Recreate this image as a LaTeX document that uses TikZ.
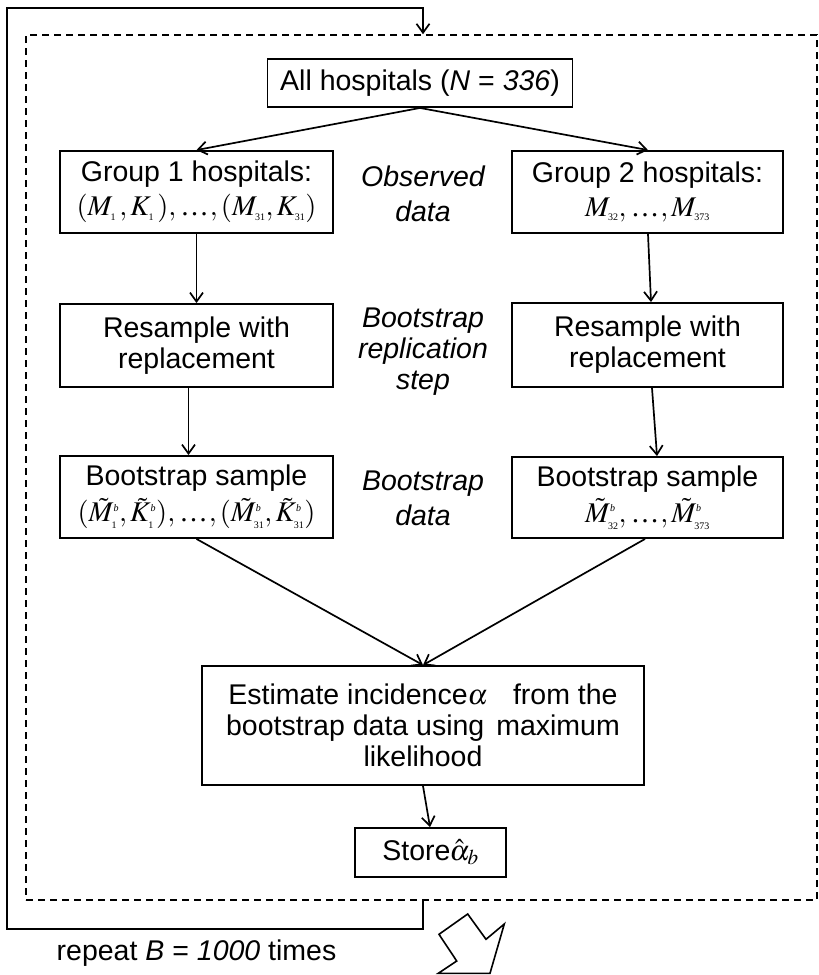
\documentclass[tikz,border=0pt]{standalone}
\usepackage{mathptmx}
\usepackage[no-math]{fontspec}
\setmainfont{Liberation Sans}
\newfontfamily\tnr{Liberation Serif}
\usetikzlibrary{arrows.meta}
\newcommand{\fsz}{\fontsize{28.5}{31}\selectfont}
\newcommand{\sbt}[1]{\hbox{\fontsize{10}{10}\selectfont\tnr #1}}
\newcommand{\sbi}[1]{\hbox{\fontsize{10}{10}\selectfont\tnr\itshape #1}}
\newcommand{\eldots}{\hbox{\tnr\kern1pt…\kern1pt}}
\tikzset{
  box/.style={draw, line width=1.9pt, inner sep=0pt, align=center, font=\fsz},
  lbl/.style={inner sep=0pt, align=center, font=\fsz\itshape},
  arr/.style={line width=1.7pt, -{Straight Barb[length=9pt,width=13pt,line width=1.7pt]}},
  frame/.style={draw, line width=1.6pt, dash pattern=on 7pt off 5pt, inner sep=0pt}
}
\begin{document}
\begin{tikzpicture}[x=1pt,y=-1pt]
\useasboundingbox (0,0) rectangle (819,975);
% dashed frame
\node[frame, minimum width=791pt, minimum height=865pt] (frame) at (421.5,467.5) {};
% boxes
\node[box, minimum width=305pt, minimum height=48pt] (top) at (420,83) {All hospitals ({\itshape N} = {\itshape 336})};
\node[box, minimum width=273pt, minimum height=82pt] (g1) at (196.5,192)
  {Group 1 hospitals:\\[3pt] $(M_{\sbt{1}}\,,K_{\sbt{1}}\,),\eldots,(M_{\sbt{31}},K_{\sbt{31}})$};
\node[box, minimum width=271pt, minimum height=82pt] (g2) at (647.5,192)
  {Group 2 hospitals:\\[3pt] $M_{\sbt{32}},\eldots,M_{\sbt{373}}$};
\node[box, minimum width=273pt, minimum height=83pt] (r1) at (196.5,345.5) {Resample with\\replacement};
\node[box, minimum width=271pt, minimum height=84pt] (r2) at (647.5,345) {Resample with\\replacement};
\node[box, minimum width=273pt, minimum height=82pt] (b1) at (196.5,497)
  {Bootstrap sample\\[5pt] $(\tilde{M}^{\sbi{b}}_{\sbt{1}},\tilde{K}^{\sbi{b}}_{\sbt{1}}),\eldots,(\tilde{M}^{\sbi{b}}_{\sbt{31}},\tilde{K}^{\sbi{b}}_{\sbt{31}})$};
\node[box, minimum width=271pt, minimum height=81pt] (b2) at (647.5,497.5)
  {Bootstrap sample\\[5pt] $\tilde{M}^{\sbi{b}}_{\sbt{32}},\eldots,\tilde{M}^{\sbi{b}}_{\sbt{373}}$};
\node[box, minimum width=442pt, minimum height=119pt] (est) at (423,725.5)
  {Estimate incidence$\alpha$\hspace{25pt}from the\\bootstrap data using\hspace{12pt}maximum\\likelihood};
\node[box, minimum width=151pt, minimum height=49pt] (store) at (430.5,852.5) {Store\kern-1pt$\hat{\alpha}_b$};
% side labels
\node[lbl] (obs) at (423,194) {Observed\\[4pt]data};
\node[lbl] (rep) at (423,352) {Bootstrap\\replication\\step};
\node[lbl] (bdat) at (423,498) {Bootstrap\\[4pt]data};
% bottom text
\node[inner sep=0pt, font=\fsz] (repeat) at (196.5,953) {repeat {\itshape B} = {\itshape 1000} times};
% arrows
\draw[arr] (top.south) -- (g1.north);
\draw[arr] (top.south) -- ([xshift=0.5pt]g2.north);
\draw[arr] (g1.south) -- (r1.north);
\draw[arr] ([xshift=0.5pt]g2.south) -- ([xshift=3.5pt]r2.north);
\draw[arr] ([xshift=-8pt]r1.south) -- ([xshift=-8pt]b1.north);
\draw[arr] ([xshift=4.5pt]r2.south) -- ([xshift=9.5pt]b2.north);
\draw[arr] (b1.south) -- (est.north);
\draw[arr] ([xshift=-2.5pt]b2.south) -- (est.north);
\draw[arr] (est.south) -- ([xshift=-0.5pt]store.north);
% repeat loop
\coordinate (lb) at (7,929);
\coordinate (lt) at (7,8);
\draw[arr] ([xshift=1.5pt]frame.south) |- (lb) -- (lt) -| ([xshift=1.5pt]frame.north);
% hollow arrow
\draw[line width=1.6pt, line join=miter] (467.7,914) -- (486,939.3) -- (504.3,924) -- (490,973.3)
  -- (438.3,973.3) -- (456.7,961) -- (439,934.3) -- cycle;
\end{tikzpicture}
\end{document}
